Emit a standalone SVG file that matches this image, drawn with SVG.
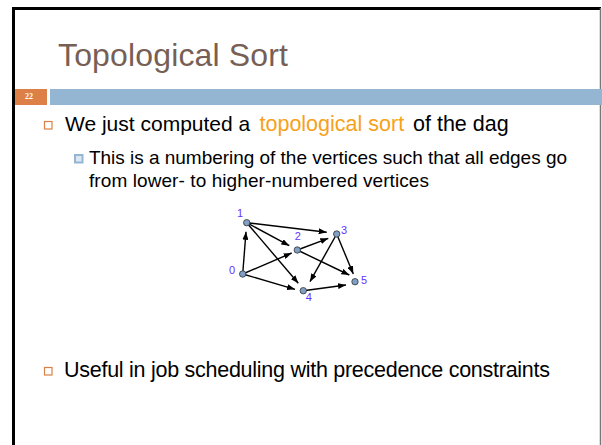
<svg xmlns="http://www.w3.org/2000/svg" width="602" height="445" viewBox="0 0 602 445">
<style>
.t{font-family:"Liberation Sans",Arial,sans-serif}
.title{font-size:32px;fill:#775F55}
.b1{font-size:21.5px;fill:#000}
.b2{font-size:19px;fill:#000}
.hl{fill:#F7A11A}
.edge{stroke:#000;stroke-width:1.4;fill:none;marker-end:url(#ah)}
.node{fill:#7f9fc4;stroke:#333;stroke-width:0.8}
.lbl{font-family:"Liberation Sans",Arial,sans-serif;font-size:11px;fill:#6633ff;text-anchor:middle}
</style>
<defs>
<marker id="ah" markerUnits="userSpaceOnUse" markerWidth="8" markerHeight="6" refX="8" refY="3" orient="auto">
<path d="M0,0 L8,3 L0,6 z" fill="#000"/>
</marker>
</defs>
<rect x="0" y="0" width="602" height="445" fill="#fff"/>
<g id="frame">
<path d="M13.5,445 V8.5 H601" fill="none" stroke="#000" stroke-width="3"/>
<line x1="600.5" y1="8" x2="600.5" y2="445" stroke="#777" stroke-width="1.5"/>
</g>
<g id="title"><text class="t title" x="58" y="66" textLength="230">Topological Sort</text></g>
<g id="header-band">
<rect x="15" y="89" width="32" height="16" fill="#DD8047"/>
<rect x="50" y="89" width="552" height="16" fill="#94B6D2"/>
<text x="29" y="99" font-family="Liberation Serif,serif" font-size="8" font-weight="bold" fill="#fff" text-anchor="middle">22</text>
</g>
<g id="bullet1">
<rect x="44.5" y="121.5" width="7.5" height="7.5" fill="none" stroke="#DD8047" stroke-width="1.2"/>
<text class="t b1" y="131"><tspan x="65" font-size="21">We just computed a</tspan><tspan class="hl" x="259.5">topological sort</tspan><tspan x="413">of the dag</tspan></text>
</g>
<g id="subbullet">
<rect x="75" y="155" width="7.5" height="7.5" fill="#dde7f1" stroke="#94B6D2" stroke-width="2"/>
<text class="t b2" x="89" y="164" textLength="478">This is a numbering of the vertices such that all edges go</text>
<text class="t b2" x="89" y="187" textLength="340">from lower- to higher-numbered vertices</text>
</g>
<g id="bullet2">
<rect x="44.5" y="367.5" width="7.5" height="7.5" fill="none" stroke="#DD8047" stroke-width="1.2"/>
<text class="t b1" x="64" y="377" textLength="486">Useful in job scheduling with precedence constraints</text>
</g>
<g id="connectors">
<line class="edge" x1="246.7" y1="222.7" x2="326.7" y2="232.3"/>
<line class="edge" x1="246.7" y1="222.7" x2="289.3" y2="245.7"/>
<line class="edge" x1="246.7" y1="222.7" x2="298.3" y2="283.3"/>
<line class="edge" x1="242.7" y1="274" x2="246" y2="231.7"/>
<line class="edge" x1="242.7" y1="274" x2="291.7" y2="253"/>
<line class="edge" x1="242.7" y1="274" x2="295" y2="289.3"/>
<line class="edge" x1="297.3" y1="250" x2="328.3" y2="238.3"/>
<line class="edge" x1="297.3" y1="250" x2="349.3" y2="275"/>
<line class="edge" x1="336.7" y1="234" x2="310" y2="281.7"/>
<line class="edge" x1="336.7" y1="234" x2="353.3" y2="274"/>
<line class="edge" x1="303.3" y1="290.7" x2="346" y2="285"/>
</g>
<g id="v0"><circle class="node" cx="242.7" cy="274" r="3.2"/><text class="lbl" x="232" y="274">0</text></g>
<g id="v1"><circle class="node" cx="246.7" cy="222.7" r="3.2"/><text class="lbl" x="240" y="217">1</text></g>
<g id="v2"><circle class="node" cx="297.3" cy="250" r="3.2"/><text class="lbl" x="297.7" y="240">2</text></g>
<g id="v3"><circle class="node" cx="336.7" cy="234" r="3.2"/><text class="lbl" x="344" y="234">3</text></g>
<g id="v4"><circle class="node" cx="303.3" cy="290.7" r="3.2"/><text class="lbl" x="308.7" y="300.7">4</text></g>
<g id="v5"><circle class="node" cx="355" cy="281.7" r="3.2"/><text class="lbl" x="364" y="284">5</text></g>
</svg>
